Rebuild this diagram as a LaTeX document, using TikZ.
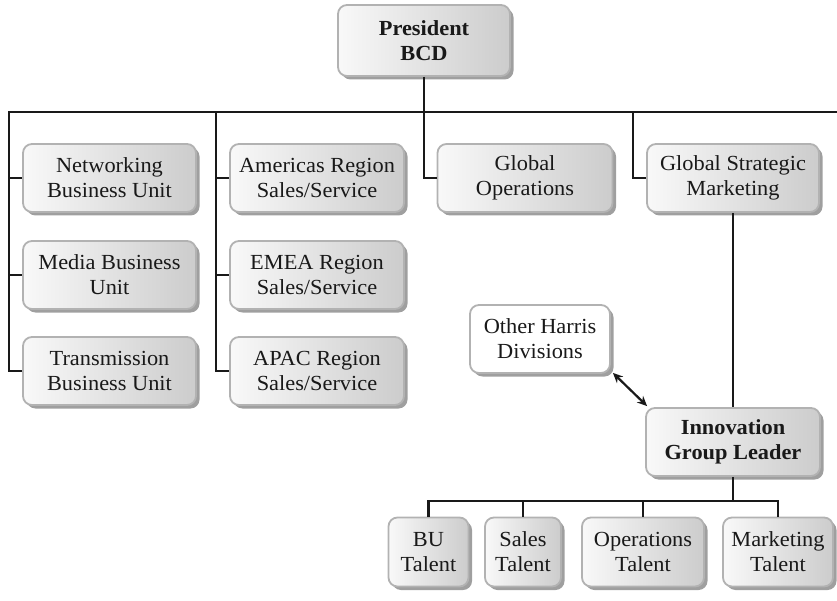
\documentclass[tikz,border=0pt]{standalone}
\usepackage{fontspec}
\setmainfont{Liberation Serif}[FakeStretch=1.04]
\usetikzlibrary{shadows,arrows.meta}
\begin{document}
\begin{tikzpicture}[x=1pt,y=-1pt,
  box/.style={rounded corners=9pt, draw=gray!60, line width=1.8pt,
    left color=gray!5, right color=gray!40,
    drop shadow={shadow xshift=3.5pt, shadow yshift=-3.5pt, fill=gray!75, opacity=1},
    align=center, inner sep=0pt, minimum height=68pt,
    font=\fontsize{21.5}{25}\selectfont, text=black!90},
  wbox/.style={box, left color=white, right color=white},
  conn/.style={line width=2.2pt, black!90},
  bi/.style={conn, {Stealth[length=10pt,width=9pt]}-{Stealth[length=10pt,width=9pt]}}]
\useasboundingbox (0,0) rectangle (837,601);

% nodes
\node[box, minimum width=172pt, minimum height=71pt] (P) at (424,40.5) {\bfseries President\\\bfseries BCD};
\node[box, minimum width=173pt] (NB) at (109.5,178) {Networking\\Business Unit};
\node[box, minimum width=173pt] (MB) at (109.5,275) {Media Business\\Unit};
\node[box, minimum width=173pt] (TB) at (109.5,371) {Transmission\\Business Unit};
\node[box, minimum width=174pt] (AR) at (317,178) {Americas Region\\Sales/Service};
\node[box, minimum width=174pt] (ER) at (317,275) {EMEA Region\\Sales/Service};
\node[box, minimum width=174pt] (PR) at (317,371) {APAC Region\\Sales/Service};
\node[box, minimum width=175pt] (GO) at (525,178) {Global\\Operations};
\node[box, minimum width=172pt] (GS) at (733,178) {Global Strategic\\Marketing};
\node[wbox, minimum width=140pt] (OH) at (540,339) {Other Harris\\Divisions};
\node[box, minimum width=174pt] (IG) at (733,442) {\bfseries Innovation\\\bfseries Group Leader};
\node[box, minimum width=80pt, minimum height=69pt] (BU) at (428.5,552) {BU\\Talent};
\node[box, minimum width=76pt, minimum height=69pt] (ST) at (523,552) {Sales\\Talent};
\node[box, minimum width=122pt, minimum height=69pt] (OT) at (643,552) {Operations\\Talent};
\node[box, minimum width=110pt, minimum height=69pt] (MT) at (778,552) {Marketing\\Talent};

% top bus
\coordinate (busL) at (8,112);
\coordinate (busR) at (837,112);
\coordinate (c1) at (9,112);
\coordinate (c2) at (216,112);
\coordinate (c3) at (424,112);
\coordinate (c4) at (633,112);
\draw[conn] (busL) -- (busR);
\draw[conn] (P) -- (P |- busL);
\draw[conn] (c1) |- (TB.west);
\draw[conn] (c1 |- NB) -- (NB.west);
\draw[conn] (c1 |- MB) -- (MB.west);
\draw[conn] (c2) |- (PR.west);
\draw[conn] (c2 |- AR) -- (AR.west);
\draw[conn] (c2 |- ER) -- (ER.west);
\draw[conn] (c3) |- (GO.west);
\draw[conn] (c4) |- (GS.west);
\draw[conn] (GS) -- (IG);

% bottom bus
\coordinate (bb) at (733,501);
\draw[conn] (IG) -- (bb);
\draw[conn] (BU) |- (bb);
\draw[conn] (MT) |- (bb);
\draw[conn] (ST) -- (ST |- bb);
\draw[conn] (OT) -- (OT |- bb);

% arrow
\draw[bi] ([shift={(2pt,1pt)}]OH.south east) -- ([shift={(2pt,1pt)}]IG.north west);
\end{tikzpicture}
\end{document}
